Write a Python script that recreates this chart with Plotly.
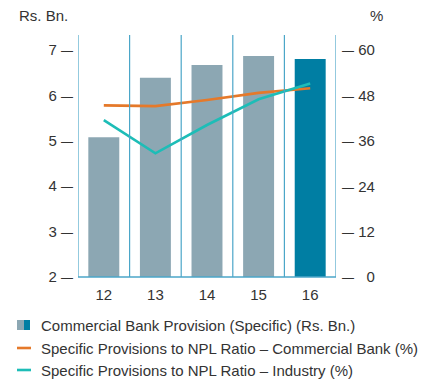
import plotly.graph_objects as go

years = ["12", "13", "14", "15", "16"]
provision = [5.08, 6.39, 6.67, 6.87, 6.80]
ratio_bank = [45.4, 45.2, 46.8, 48.7, 49.9]
ratio_industry = [41.5, 32.7, 40.2, 47.0, 51.2]
left_ticks = [2, 3, 4, 5, 6, 7]
right_ticks = [0, 12, 24, 36, 48, 60]
legend_labels = [
    "Commercial Bank Provision (Specific) (Rs. Bn.)",
    "Specific Provisions to NPL Ratio \u2013 Commercial Bank (%)",
    "Specific Provisions to NPL Ratio \u2013 Industry (%)",
]

GREY = "#8ca7b3"
BLUE = "#007ea3"
ORANGE = "#e5792a"
TEAL = "#1dbdb7"
LINE = "#4ba6c8"
TXT = "#333333"
FONT = "Liberation Sans"
FS = 15

# page body has an 8px margin; figure is sized to fit the window
OFF = 8
W, H = 439 - OFF, 379 - OFF
L, R, T, B = 78 - OFF, 103, 35 - OFF, 102
PW, PH = W - L - R, H - T - B

bar_colors = [GREY] * (len(years) - 1) + [BLUE]

fig = go.Figure()
fig.add_trace(go.Bar(x=years, y=provision, marker=dict(color=bar_colors, line=dict(width=0)),
                     width=0.6, yaxis="y", showlegend=False))
fig.add_trace(go.Scatter(x=years, y=ratio_bank, mode="lines", line=dict(color=ORANGE, width=2.6),
                         yaxis="y2", showlegend=False))
fig.add_trace(go.Scatter(x=years, y=ratio_industry, mode="lines", line=dict(color=TEAL, width=2.6),
                         yaxis="y2", showlegend=False))

shapes = []
n = len(years)
for i in range(n + 1):
    shapes.append(dict(type="line", xref="x", yref="paper", x0=i - 0.5, x1=i - 0.5, y0=0, y1=1,
                       line=dict(color=LINE, width=1.2), layer="above"))
shapes.append(dict(type="line", xref="paper", yref="paper", x0=0, x1=1, y0=0, y1=0,
                   line=dict(color=LINE, width=1.5), layer="above"))

def px(x):
    return (x - OFF - L) / PW

def py(y):
    return (H - B - (y - OFF)) / PH

# manual legend (reference pixel coordinates)
rows = [325, 348, 370]
shapes.append(dict(type="rect", xref="paper", yref="paper", x0=px(17), x1=px(24), y0=py(330), y1=py(320),
                   fillcolor=GREY, line=dict(width=0)))
shapes.append(dict(type="rect", xref="paper", yref="paper", x0=px(24), x1=px(30), y0=py(330), y1=py(320),
                   fillcolor=BLUE, line=dict(width=0)))
shapes.append(dict(type="line", xref="paper", yref="paper", x0=px(17), x1=px(31), y0=py(rows[1]), y1=py(rows[1]),
                   line=dict(color=ORANGE, width=2.6)))
shapes.append(dict(type="line", xref="paper", yref="paper", x0=px(17), x1=px(31), y0=py(rows[2]), y1=py(rows[2]),
                   line=dict(color=TEAL, width=2.6)))

annotations = []
for lbl, yy in zip(legend_labels, rows):
    annotations.append(dict(text=lbl, xref="paper", yref="paper", x=px(39), y=py(yy), xanchor="left",
                            yanchor="middle", showarrow=False, font=dict(size=FS, color=TXT, family=FONT)))
annotations.append(dict(text="Rs. Bn.", xref="paper", yref="paper", x=px(17), y=py(15), xanchor="left",
                        yanchor="middle", showarrow=False, font=dict(size=FS, color=TXT, family=FONT)))
annotations.append(dict(text="%", xref="paper", yref="paper", x=px(376), y=py(15), xanchor="center",
                        yanchor="middle", showarrow=False, font=dict(size=FS, color=TXT, family=FONT)))

DASH = '<span style="font-size:12px">\u2014</span>'
left_text = [f"{v} {DASH}" for v in left_ticks]
right_text = [DASH + " " + ("\u2007" if v < 10 else "") + str(v) for v in right_ticks]

fig.update_layout(
    width=W, height=H,
    margin=dict(l=L, r=R, t=T, b=B, pad=0),
    paper_bgcolor="white", plot_bgcolor="white",
    font=dict(family=FONT, size=FS, color=TXT),
    showlegend=False,
    xaxis=dict(type="category", range=[-0.5, n - 0.5], showgrid=False, showline=False, zeroline=False,
               ticks="", tickfont=dict(size=FS, color=TXT), ticklabelstandoff=7),
    yaxis=dict(range=[2, 7.33], tickvals=left_ticks, ticktext=left_text,
               showgrid=False, zeroline=False, showline=False, ticks="",
               tickfont=dict(size=FS, color=TXT), ticklabelstandoff=4),
    yaxis2=dict(range=[0, 64], overlaying="y", side="right", tickvals=right_ticks, ticktext=right_text,
                showgrid=False, zeroline=False, showline=False, ticks="",
                tickfont=dict(size=FS, color=TXT), ticklabelstandoff=5),
    shapes=shapes,
    annotations=annotations,
)

fig.write_html("out.html")
